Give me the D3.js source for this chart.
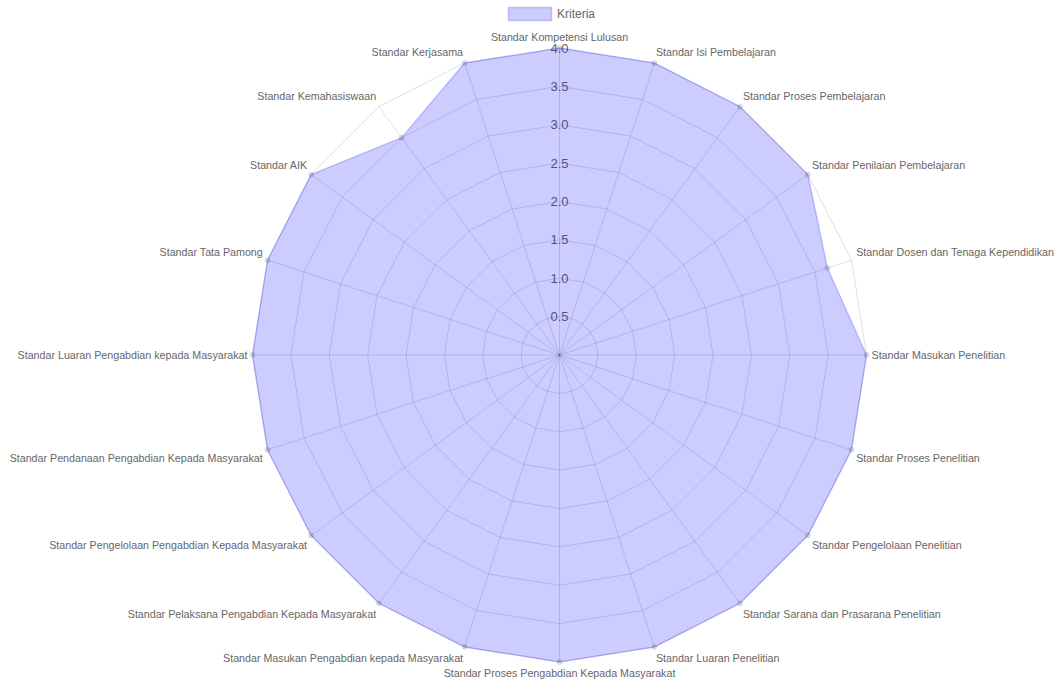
<!DOCTYPE html>
<html>
<head>
<meta charset="utf-8">
<script src="https://cdn.jsdelivr.net/npm/d3@7"></script>
<style>
  html, body { margin: 0; padding: 0; background: #fff; }
  svg { display: block; }
  text { font-family: "Liberation Sans", Arial, sans-serif; }
</style>
</head>
<body>
<svg id="chart" width="1061" height="685"></svg>
<script>
const categories = [
  "Standar Kompetensi Lulusan",
  "Standar Isi Pembelajaran",
  "Standar Proses Pembelajaran",
  "Standar Penilaian Pembelajaran",
  "Standar Dosen dan Tenaga Kependidikan",
  "Standar Masukan Penelitian",
  "Standar Proses Penelitian",
  "Standar Pengelolaan Penelitian",
  "Standar Sarana dan Prasarana Penelitian",
  "Standar Luaran Penelitian",
  "Standar Proses Pengabdian Kepada Masyarakat",
  "Standar Masukan Pengabdian kepada Masyarakat",
  "Standar Pelaksana Pengabdian Kepada Masyarakat",
  "Standar Pengelolaan Pengabdian Kepada Masyarakat",
  "Standar Pendanaan Pengabdian Kepada Masyarakat",
  "Standar Luaran Pengabdian kepada Masyarakat",
  "Standar Tata Pamong",
  "Standar AIK",
  "Standar Kemahasiswaan",
  "Standar Kerjasama"
];
const seriesName = "Kriteria";
const values = [4, 4, 4, 4, 3.67, 4, 4, 4, 4, 4, 4, 4, 4, 4, 4, 4, 4, 4, 3.5, 4];
const tickValues = [0.5, 1.0, 1.5, 2.0, 2.5, 3.0, 3.5, 4.0];
const scaleMax = 4;

const svg = d3.select("#chart");
const cx = 559.5, cy = 355, R = 307;
const n = categories.length;

const r = d3.scaleLinear().domain([0, scaleMax]).range([0, R]);
const angle = d3.scalePoint().domain(d3.range(n)).range([0, 2 * Math.PI * (n - 1) / n]);

const pt = (i, rad) => {
  const a = angle(i);
  return [cx + rad * Math.sin(a), cy - rad * Math.cos(a)];
};

const gridColor = "rgba(0,0,0,0.12)";
const fillColor = "rgba(0,0,255,0.2)";
const lineColor = "rgba(0,0,255,0.2)";

const g = svg.append("g");
g.selectAll("polygon.grid")
  .data(tickValues)
  .enter().append("polygon")
  .attr("points", t => d3.range(n).map(i => pt(i, r(t)).join(",")).join(" "))
  .attr("fill", "none")
  .attr("stroke", gridColor)
  .attr("stroke-width", 1);

g.selectAll("line.angle")
  .data(d3.range(n))
  .enter().append("line")
  .attr("x1", cx).attr("y1", cy)
  .attr("x2", i => pt(i, R)[0])
  .attr("y2", i => pt(i, R)[1])
  .attr("stroke", gridColor)
  .attr("stroke-width", 1);

g.selectAll("text.tick")
  .data(tickValues)
  .enter().append("text")
  .attr("x", cx)
  .attr("y", t => cy - r(t))
  .attr("text-anchor", "middle")
  .attr("dominant-baseline", "central")
  .attr("font-size", 13)
  .attr("fill", "#666")
  .text(t => d3.format(".1f")(t));

svg.append("polygon")
  .attr("points", values.map((v, i) => pt(i, r(v)).join(",")).join(" "))
  .attr("fill", fillColor)
  .attr("stroke", lineColor)
  .attr("stroke-width", 1.5);

svg.selectAll("circle.pt")
  .data(values)
  .enter().append("circle")
  .attr("cx", (v, i) => pt(i, r(v))[0])
  .attr("cy", (v, i) => pt(i, r(v))[1])
  .attr("r", 2.5)
  .attr("fill", "rgba(0,0,0,0.1)")
  .attr("stroke", "rgba(0,0,0,0.1)");

const labelR = R + 5;
const fs = 10.7;
svg.selectAll("text.lbl")
  .data(categories)
  .enter().append("text")
  .each(function(d, i) {
    const deg = Math.round(angle(i) * 180 / Math.PI);
    const [x, y] = pt(i, labelR);
    let anchor;
    if (deg === 0 || deg === 180) anchor = "middle";
    else if (deg < 180) anchor = "start";
    else anchor = "end";
    let yy = y;
    if (deg === 90 || deg === 270) yy = y;
    else if (deg > 270 || deg < 90) yy = y - fs / 2 - 1;
    else yy = y + fs / 2 + 1;
    d3.select(this)
      .attr("x", x)
      .attr("y", yy)
      .attr("text-anchor", anchor)
      .attr("dominant-baseline", "central")
      .attr("font-size", fs)
      .attr("fill", "#666")
      .text(d);
  });

const leg = svg.append("g");
leg.append("rect")
  .attr("x", 508.5).attr("y", 7.5)
  .attr("width", 43).attr("height", 13)
  .attr("fill", fillColor)
  .attr("stroke", lineColor)
  .attr("stroke-width", 1.5);
leg.append("text")
  .attr("x", 557).attr("y", 14)
  .attr("dominant-baseline", "central")
  .attr("font-size", 12)
  .attr("fill", "#666")
  .text(seriesName);
</script>
</body>
</html>
